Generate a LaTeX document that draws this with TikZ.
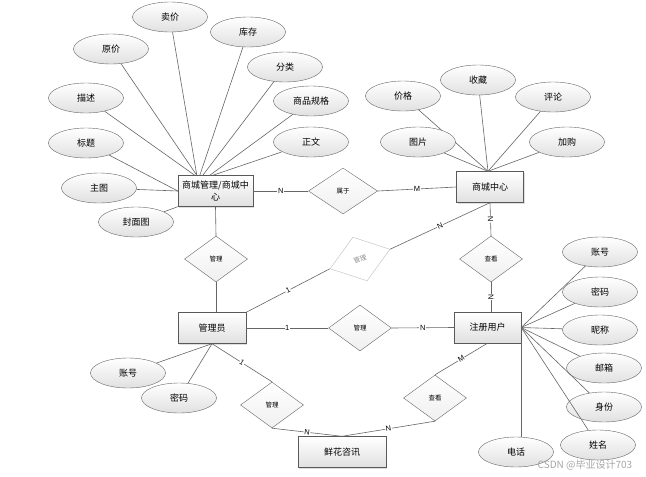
\documentclass[tikz,border=0pt]{standalone}
\usepackage{fontspec}
\setmainfont{Liberation Sans}
\newfontfamily\cjk{Noto Sans CJK SC}
\usetikzlibrary{shapes.geometric,shadows}

\tikzset{
  ent/.style={draw=black!65, top color=white, bottom color=black!12, minimum width=68pt, minimum height=31pt,
    inner sep=1pt, align=center, font=\cjk\fontsize{9}{12}\selectfont,
    drop shadow={opacity=0.25,shadow xshift=1.2pt,shadow yshift=-1.2pt}},
  attr/.style={ellipse, draw=black!60, top color=white, bottom color=black!12, minimum width=75pt,
    minimum height=30pt, inner sep=0pt, font=\cjk\fontsize{9}{10}\selectfont},
  rel/.style={diamond, draw=black!60, top color=white, bottom color=black!6, minimum width=63pt,
    minimum height=46pt, inner sep=0pt, font=\cjk\fontsize{6.5}{7}\selectfont},
  ln/.style={draw=black!60, line width=0.6pt},
  card/.style={fill=white, inner sep=0.6pt, font=\fontsize{7.5}{8}\selectfont},
}

\begin{document}
\begin{tikzpicture}[x=1pt,y=-1pt]
  \useasboundingbox[fill=white] (0,0) rectangle (646,477);
  % entities
  \node[ent, minimum width=75pt] (sc) at (215.5,191) {商城管理/商城中\\心};
  \node[ent, minimum width=67pt] (zx) at (490,187) {商城中心};
  \node[ent] (gly) at (212,328) {管理员};
  \node[ent, minimum width=67pt] (user) at (487.5,327.5) {注册用户};
  \node[ent, minimum width=88pt] (xh) at (342,452) {鲜花咨讯};
  % relations
  \node[rel, minimum width=69pt] (sy) at (343,191) {属于};
  \node[rel] (gl1) at (216,259) {管理};
  \node[rel, draw=black!25, text=black!45, top color=white, bottom color=white, rotate=18] (gl2) at (360,259) {管理};
  \node[rel] (ck1) at (491,259) {查看};
  \node[rel] (gl3) at (360,328) {管理};
  \node[rel] (gl4) at (272,405) {管理};
  \node[rel] (ck2) at (435,398) {查看};
  % attributes of 商城管理
  \foreach \n/\x/\y/\t/\s/\a in {maijia/170/17/卖价/19/north west, kucun/248/32/库存/22/north west,
      yuanjia/111/49/原价/19/north west, fenlei/285/67/分类/25/north west, miaoshu/86/98/描述/17/north west,
      guige/311/101/商品规格/32/north west, zhengwen/311/142/正文/35/north west, biaoti/86/143/标题/0/west,
      zhutu/99/188/主图/0/west, fengmian/136/222/封面图/0/south west}{
    \node[attr] (\n) at (\x,\y) {\t};
    \draw[ln] (\n) -- ([xshift=\s pt]sc.\a);
  }
  % attributes of 商城中心
  \foreach \n/\x/\y/\t in {jiage/403/96/价格, shoucang/478/80/收藏, pinglun/553/97/评论,
      tupian/418/142/图片, jiagou/567/142/加购}{
    \node[attr] (\n) at (\x,\y) {\t};
    \draw[ln] (\n) -- ([xshift=-2pt]zx.north);
  }
  % attributes of 注册用户
  \foreach \n/\x/\y/\t in {uzh/600/252/账号, umm/600/292/密码, unc/600/330/昵称,
      uyx/604/368/邮箱, usf/604/407/身份, uxm/598/445/姓名}{
    \node[attr] (\n) at (\x,\y) {\t};
    \draw[ln] (user.east) -- (\n);
  }
  \node[attr] (udh) at (516,452) {电话};
  \draw[ln] (user.south east) -- (user.south east |- udh.north);
  % attributes of 管理员
  \node[attr] (gzh) at (128,373) {账号};
  \node[attr] (gmm) at (179,398) {密码};
  \draw[ln] (gly.south) -- (gzh);
  \draw[ln] (gly.south) -- (gmm);
  % relationships
  \draw[ln] (sc.east) -- (sy.west) node[card,midway] {N};
  \draw[ln] (sy.east) -- (zx.west) node[card,midway] {M};
  \draw[ln] (sc.south) -- (gl1.north);
  \draw[ln] (gl1.south) -- (gl1.south |- gly.north);
  \draw[ln] (zx.south) -- (gl2.east) node[card,midway,sloped] {N};
  \draw[ln] (gl2.west) -- (gly.north east) node[card,midway,sloped] {1};
  \draw[ln] (zx.south) -- (ck1.north) node[card,midway,sloped] {N};
  \draw[ln] (ck1.south) -- (ck1.south |- user.north) node[card,midway,sloped] {N};
  \draw[ln] (gly.east) -- (gl3.west) node[card,midway] {1};
  \draw[ln] (gl3.east) -- (user.west) node[card,midway] {N};
  \draw[ln] (gly.south) -- (gl4.north) node[card,midway,sloped] {1};
  \draw[ln] (gl4.south) -- (xh.north) node[card,midway,sloped] {N};
  \draw[ln] (xh.north) -- (ck2.south) node[card,midway,sloped] {N};
  \draw[ln] (ck2.north) -- (user.south) node[card,midway,sloped] {M};
  % watermark
  \node[text=black!35, font=\cjk\fontsize{10}{11}\selectfont] (wm) at (585,465) {CSDN @毕业设计703};
\end{tikzpicture}
\end{document}
